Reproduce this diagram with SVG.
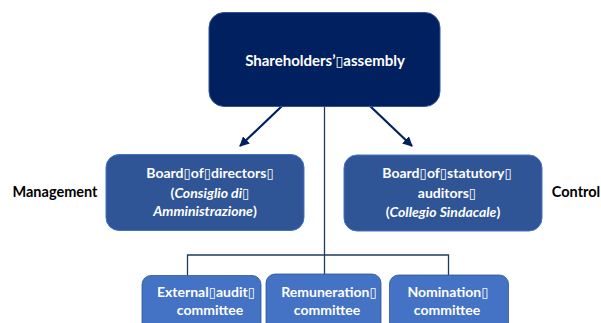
<svg xmlns="http://www.w3.org/2000/svg" width="601" height="323" viewBox="0 0 601 323">
  <style>
    .t { font-family: Lato, "Open Sans", "Liberation Sans", sans-serif; font-weight: bold; text-anchor: middle; }
    .w { fill: #ffffff; }
    .k { fill: #000000; }
    .q { font-family: "DejaVu Sans", sans-serif; font-weight: normal; font-size: 0.95em; }
    .i { font-style: italic; }
    .top { fill: #002060; stroke: #2f5597; stroke-width: 1; }
    .mid { fill: #2f5597; stroke: #4472c4; stroke-width: 1; }
    .low { fill: #4472c4; stroke: #2f5597; stroke-width: 0.8; }
    .arr { stroke: #002060; stroke-width: 2.2; fill: none; }
    .tree { stroke: #1f3864; stroke-width: 1.3; fill: none; }
  </style>
  <defs>
    <marker id="head" viewBox="0 0 10 10" refX="9" refY="5" markerWidth="4.5" markerHeight="4.5" orient="auto">
      <path d="M0,0 L10,5 L0,10 z" fill="#002060"/>
    </marker>
  </defs>
  <rect width="601" height="323" fill="#ffffff"/>

  <!-- arrows from the assembly and the committee tree -->
  <g id="connectors">
    <line class="arr" x1="282" y1="106" x2="240" y2="146" marker-end="url(#head)"/>
    <line class="arr" x1="370" y1="106" x2="412" y2="146" marker-end="url(#head)"/>
    <polyline class="tree" points="324.5,106 324.5,275"/>
    <polyline class="tree" points="187.5,275 187.5,255 448.5,255 448.5,275"/>
  </g>

  <g id="assembly">
    <rect class="top" x="209" y="12.5" width="231" height="94" rx="15"/>
    <text class="t w" x="325" y="66" font-size="15">Shareholders’<tspan class="q">▯</tspan>assembly</text>
  </g>

  <g id="board-directors">
    <rect class="mid" x="106" y="154.5" width="198" height="76" rx="13"/>
    <text class="t w" x="210" y="178" font-size="14">Board<tspan class="q">▯</tspan>of<tspan class="q">▯</tspan>directors<tspan class="q">▯</tspan></text>
    <text class="t w" x="210" y="198" font-size="14">(<tspan class="i">Consiglio di</tspan><tspan class="q">▯</tspan></text>
    <text class="t w" x="205" y="216" font-size="14"><tspan class="i">Amministrazione</tspan>)</text>
  </g>

  <g id="board-auditors">
    <rect class="mid" x="344" y="155" width="198" height="76" rx="13"/>
    <text class="t w" x="447" y="178" font-size="14">Board<tspan class="q">▯</tspan>of<tspan class="q">▯</tspan>statutory<tspan class="q">▯</tspan></text>
    <text class="t w" x="447" y="198" font-size="14">auditors<tspan class="q">▯</tspan></text>
    <text class="t w" x="443" y="217" font-size="14">(<tspan class="i">Collegio Sindacale</tspan>)</text>
  </g>

  <g id="audit-committee">
    <rect class="low" x="142" y="275.5" width="119" height="60" rx="9"/>
    <text class="t w" x="206" y="297" font-size="14">External<tspan class="q">▯</tspan>audit<tspan class="q">▯</tspan></text>
    <text class="t w" x="210" y="315" font-size="14">committee</text>
  </g>

  <g id="remuneration-committee">
    <rect class="low" x="266" y="274" width="115" height="60" rx="9"/>
    <text class="t w" x="329" y="297" font-size="14">Remuneration<tspan class="q">▯</tspan></text>
    <text class="t w" x="327" y="315" font-size="14">committee</text>
  </g>

  <g id="nomination-committee">
    <rect class="low" x="389.5" y="275" width="119" height="60" rx="9"/>
    <text class="t w" x="448" y="297" font-size="14">Nomination<tspan class="q">▯</tspan></text>
    <text class="t w" x="447" y="315" font-size="14">committee</text>
  </g>

  <g id="labels">
    <text class="t k" x="55" y="197" font-size="14.5">Management</text>
    <text class="t k" x="576" y="197" font-size="14.5">Control</text>
  </g>
</svg>
